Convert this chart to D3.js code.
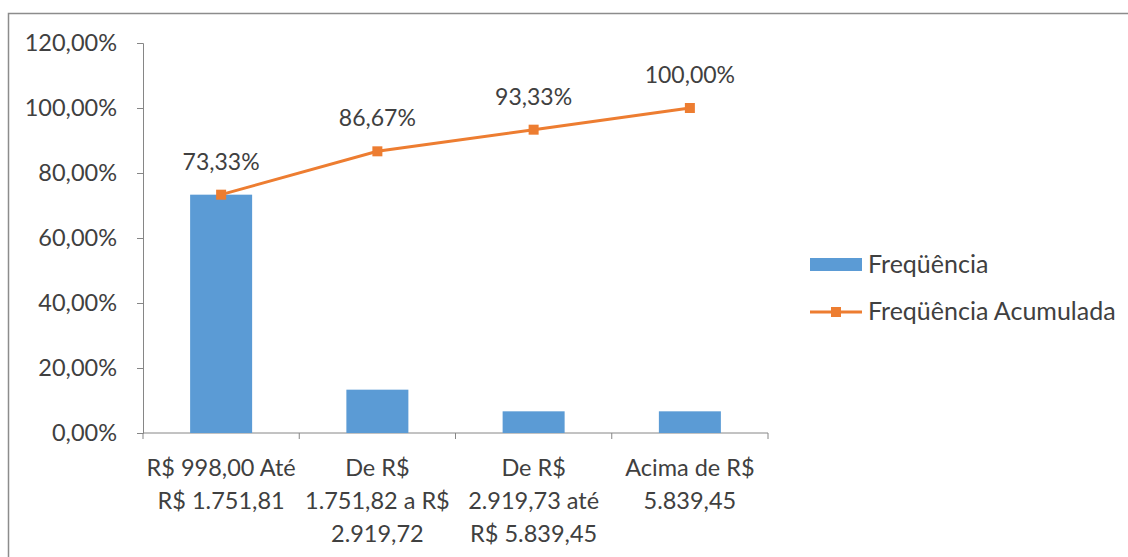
<!DOCTYPE html>
<meta charset="utf-8">
<head>
  <script src="https://d3js.org/d3.v7.min.js"></script>
  <style>
    body { margin: 0; background: white; }
    text { font-family: Lato, "Open Sans", sans-serif; fill: #404040; }
  </style>
</head>
<body>
  <div id="chart"></div>
  <script>
    var categories = [
      ["R$ 998,00 Até", "R$ 1.751,81"],
      ["De R$", "1.751,82 a R$", "2.919,72"],
      ["De R$", "2.919,73 até", "R$ 5.839,45"],
      ["Acima de R$", "5.839,45"]
    ];
    var frequencia = [73.33, 13.33, 6.67, 6.67];
    var acumulada = [73.33, 86.67, 93.33, 100.00];
    var yTicks = [0, 20, 40, 60, 80, 100, 120];
    var seriesNames = ["Freqüência", "Freqüência Acumulada"];

    var W = 1128, H = 557;
    var margin = { top: 43, left: 143, right: 360, bottom: 124 };
    var width = W - margin.left - margin.right,
      height = H - margin.top - margin.bottom;

    var svgRoot = d3.select("#chart").append("svg")
      .attr("width", W).attr("height", H);

    // outer frame (only top and left visible)
    svgRoot.append("rect")
      .attr("x", 8.5).attr("y", 13.5)
      .attr("width", W + 20).attr("height", H + 20)
      .attr("fill", "white").attr("stroke", "#8c8c8c").attr("stroke-width", 1.5);

    var svg = svgRoot.append("g")
      .attr("transform", "translate(" + margin.left + "," + margin.top + ")");

    var idx = d3.range(categories.length);
    var x = d3.scaleBand().domain(idx).range([0, width]).paddingInner(0).paddingOuter(0);
    var y = d3.scaleLinear().domain([0, 120]).range([height, 0]);

    var fmt = function (v) { return d3.format(".2f")(v).replace(".", ",") + "%"; };

    // y axis
    var yAxis = svg.append("g")
      .call(d3.axisLeft(y).tickValues(yTicks).tickSize(6).tickPadding(20).tickFormat(fmt));
    yAxis.selectAll("line, path").attr("stroke", "#868686");
    yAxis.selectAll("text").style("font-size", "23.5px").attr("fill", "#404040");

    // x axis
    var xAxisG = svg.append("g").attr("transform", "translate(0," + height + ")");
    xAxisG.append("line").attr("x1", 0).attr("x2", width).attr("stroke", "#868686");
    xAxisG.selectAll(".tk")
      .data(d3.range(categories.length + 1))
      .enter().append("line")
      .attr("x1", function (d) { return d === categories.length ? width : x(d); })
      .attr("x2", function (d) { return d === categories.length ? width : x(d); })
      .attr("y1", 0).attr("y2", 6)
      .attr("stroke", "#868686");

    var lbl = xAxisG.selectAll(".cat")
      .data(categories)
      .enter().append("text")
      .attr("text-anchor", "middle")
      .style("font-size", "23.5px")
      .attr("transform", function (d, i) { return "translate(" + (x(i) + x.bandwidth() / 2) + ",0)"; });
    lbl.selectAll("tspan")
      .data(function (d) { return d; })
      .enter().append("tspan")
      .attr("x", 0)
      .attr("y", function (d, j) { return 43 + j * 33; })
      .text(function (d) { return d; });

    // bars
    var barW = 62;
    svg.selectAll(".bar")
      .data(frequencia)
      .enter().append("rect")
      .attr("x", function (d, i) { return x(i) + x.bandwidth() / 2 - barW / 2; })
      .attr("y", function (d) { return y(d); })
      .attr("width", barW)
      .attr("height", function (d) { return height - y(d); })
      .attr("fill", "#5b9bd5");

    // cumulative line
    var line = d3.line()
      .x(function (d, i) { return x(i) + x.bandwidth() / 2; })
      .y(function (d) { return y(d); });
    svg.append("path")
      .datum(acumulada)
      .attr("d", line)
      .attr("fill", "none")
      .attr("stroke", "#ed7d31")
      .attr("stroke-width", 3);
    svg.selectAll(".mk")
      .data(acumulada)
      .enter().append("rect")
      .attr("x", function (d, i) { return x(i) + x.bandwidth() / 2 - 5; })
      .attr("y", function (d) { return y(d) - 5; })
      .attr("width", 10).attr("height", 10)
      .attr("fill", "#ed7d31");
    svg.selectAll(".dl")
      .data(acumulada)
      .enter().append("text")
      .attr("x", function (d, i) { return x(i) + x.bandwidth() / 2; })
      .attr("y", function (d) { return y(d) - 25; })
      .attr("text-anchor", "middle")
      .style("font-size", "23px")
      .text(fmt);

    // legend
    var leg = svgRoot.append("g").attr("transform", "translate(810,0)");
    leg.append("rect").attr("x", 0).attr("y", 258).attr("width", 52).attr("height", 13).attr("fill", "#5b9bd5");
    leg.append("text").attr("x", 58).attr("y", 273).style("font-size", "25px").text(seriesNames[0]);
    leg.append("line").attr("x1", 0).attr("x2", 52).attr("y1", 312).attr("y2", 312)
      .attr("stroke", "#ed7d31").attr("stroke-width", 3);
    leg.append("rect").attr("x", 21).attr("y", 307).attr("width", 10).attr("height", 10).attr("fill", "#ed7d31");
    leg.append("text").attr("x", 58).attr("y", 320).style("font-size", "25px").text(seriesNames[1]);
  </script>
</body>
